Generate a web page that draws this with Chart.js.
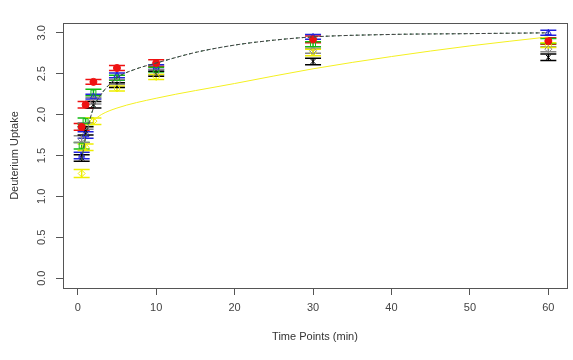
<!DOCTYPE html>
<html>
<head>
<meta charset="utf-8">
<script src="https://cdn.jsdelivr.net/npm/chart.js@4"></script>
<style>
  html, body { margin: 0; padding: 0; background: #fff; }
  #wrap { width: 573px; height: 360px; }
</style>
</head>
<body>
<div id="wrap"><canvas id="grafico" width="573" height="360"></canvas></div>
<script>
// time points (min)
var tempi = [0.5, 1, 2, 5, 10, 30, 60];

// deuterium uptake per replicate
var rosso  = [1.85, 2.12, 2.40, 2.57, 2.63, 2.92, 2.90];
var blu    = [1.50, 1.75, 2.22, 2.48, 2.58, 2.95, 3.00];
var verde  = [1.62, 1.92, 2.27, 2.45, 2.55, 2.86, 2.90];
var nero   = [1.47, 1.80, 2.12, 2.36, 2.50, 2.65, 2.70];
var giallo = [1.28, 1.60, 1.92, 2.32, 2.46, 2.76, 2.85];
var grigio = [1.70, 1.86, 2.17, 2.40, 2.52, 2.78, 2.80];

// error half-widths
var errRosso  = [0.04, 0.04, 0.03, 0.03, 0.04, 0.04, 0.04];
var errBlu    = [0.04, 0.04, 0.03, 0.03, 0.03, 0.03, 0.03];
var errVerde  = [0.04, 0.04, 0.04, 0.03, 0.03, 0.03, 0.03];
var errNero   = [0.04, 0.05, 0.04, 0.03, 0.03, 0.04, 0.04];
var errGiallo = [0.05, 0.04, 0.04, 0.03, 0.03, 0.04, 0.03];
var errGrigio = [0.04, 0.04, 0.04, 0.03, 0.03, 0.03, 0.03];

// fitted curves
var tempiFit   = [0.5, 1, 2, 3, 5, 7.5, 10, 15, 20, 25, 30, 40, 50, 60];
var fitMedia   = [1.45, 1.72, 2.08, 2.25, 2.45, 2.56, 2.63, 2.76, 2.85, 2.91, 2.95, 2.98, 2.99, 3.0];
var tempiGiallo = [2, 3, 5, 10, 20, 30, 40, 50, 60];
var fitGiallo   = [1.93, 2.0, 2.08, 2.2, 2.38, 2.56, 2.71, 2.84, 2.95];

var xTicks = [0, 10, 20, 30, 40, 50, 60];
var yTicks = [0, 0.5, 1, 1.5, 2, 2.5, 3];

function punti(xs, ys) {
    var out = [];
    for (var i = 0; i < xs.length; i++) out.push({x: xs[i], y: ys[i]});
    return out;
}

function serie(colore, valori, err, stile, pieno) {
    return {
        type: 'scatter',
        data: punti(tempi, valori),
        err: err,
        borderColor: colore,
        backgroundColor: pieno ? colore : 'rgba(0,0,0,0)',
        pointStyle: stile,
        pointRadius: 3.5,
        borderWidth: 1,
        showLine: false
    };
}

function curva(xs, ys, colore, dash, spessore) {
    return {
        type: 'line',
        data: punti(xs, ys),
        borderColor: colore,
        borderWidth: spessore,
        borderDash: dash,
        pointRadius: 0,
        cubicInterpolationMode: 'monotone',
        fill: false
    };
}

var font = {family: 'Liberation Sans, Arial, sans-serif', size: 11};

var barreErrore = {
    id: 'barreErrore',
    beforeDatasetsDraw: function (chart) {
        var ctx = chart.ctx, xs = chart.scales.x, ys = chart.scales.y;
        ctx.save();
        ctx.lineWidth = 1.5;
        chart.data.datasets.forEach(function (ds) {
            if (!ds.err) return;
            ctx.strokeStyle = ds.borderColor;
            ds.data.forEach(function (p, i) {
                var x = xs.getPixelForValue(p.x);
                var y1 = ys.getPixelForValue(p.y - ds.err[i]);
                var y2 = ys.getPixelForValue(p.y + ds.err[i]);
                ctx.beginPath();
                ctx.moveTo(x, y1); ctx.lineTo(x, y2);
                ctx.moveTo(x - 8, y1); ctx.lineTo(x + 8, y1);
                ctx.moveTo(x - 8, y2); ctx.lineTo(x + 8, y2);
                ctx.stroke();
            });
        });
        ctx.restore();
    },
    afterDraw: function (chart) {
        var a = chart.chartArea, ctx = chart.ctx, ys = chart.scales.y;
        ctx.save();
        ctx.strokeStyle = '#555';
        ctx.lineWidth = 1;
        ctx.strokeRect(a.left + 0.5, a.top + 0.5, a.right - a.left, a.bottom - a.top);
        // y tick labels, rotated like R
        ctx.fillStyle = '#444';
        ctx.font = font.size + 'px ' + font.family;
        ctx.textAlign = 'center';
        ctx.textBaseline = 'middle';
        yTicks.forEach(function (v) {
            ctx.save();
            ctx.translate(42, ys.getPixelForValue(v));
            ctx.rotate(-Math.PI / 2);
            ctx.fillText(v.toFixed(1), 0, 0);
            ctx.restore();
        });
        ctx.restore();
    }
};

new Chart(document.getElementById('grafico'), {
    data: {
        datasets: [
            curva(tempiFit, fitMedia, '#444', [4, 2], 1),
            curva(tempiFit, fitMedia, '#3a9a3a', [2, 4], 1),
            curva(tempiFit, fitMedia, '#4455bb', [1, 5], 1),
            curva(tempiGiallo, fitGiallo, '#f4f020', [], 1),
            serie('#ee1111', rosso, errRosso, 'circle', true),
            serie('#2222dd', blu, errBlu, 'triangle', false),
            serie('#11bb11', verde, errVerde, 'rect', false),
            serie('#888888', grigio, errGrigio, 'rectRot', false),
            serie('#eeee00', giallo, errGiallo, 'rectRot', false),
            serie('#000000', nero, errNero, 'crossRot', false)
        ]
    },
    options: {
        responsive: false,
        animation: false,
        layout: {padding: {left: 0, right: 6, top: 23, bottom: 0}},
        plugins: {legend: {display: false}, tooltip: {enabled: false}},
        scales: {
            x: {
                type: 'linear',
                min: -1.88, max: 62.38,
                afterBuildTicks: function (s) { s.ticks = xTicks.map(function (v) { return {value: v}; }); },
                afterFit: function (s) { s.height = 72; },
                grid: {drawOnChartArea: false, drawTicks: true, tickLength: 7, color: '#555'},
                border: {display: false},
                ticks: {font: font, color: '#444', padding: 6, maxRotation: 0, callback: function (v) { return v; }},
                title: {display: true, text: 'Time Points (min)', font: font, color: '#333', padding: {top: 4, bottom: 16}}
            },
            y: {
                type: 'linear',
                min: -0.12, max: 3.12,
                afterBuildTicks: function (s) { s.ticks = yTicks.map(function (v) { return {value: v}; }); },
                afterFit: function (s) { s.width = 63; },
                grid: {drawOnChartArea: false, drawTicks: true, tickLength: 7, color: '#555'},
                border: {display: false},
                ticks: {display: false},
                title: {display: true, text: 'Deuterium Uptake', font: font, color: '#333', padding: {top: 8, bottom: 4}}
            }
        }
    },
    plugins: [barreErrore]
});
</script>
</body>
</html>
